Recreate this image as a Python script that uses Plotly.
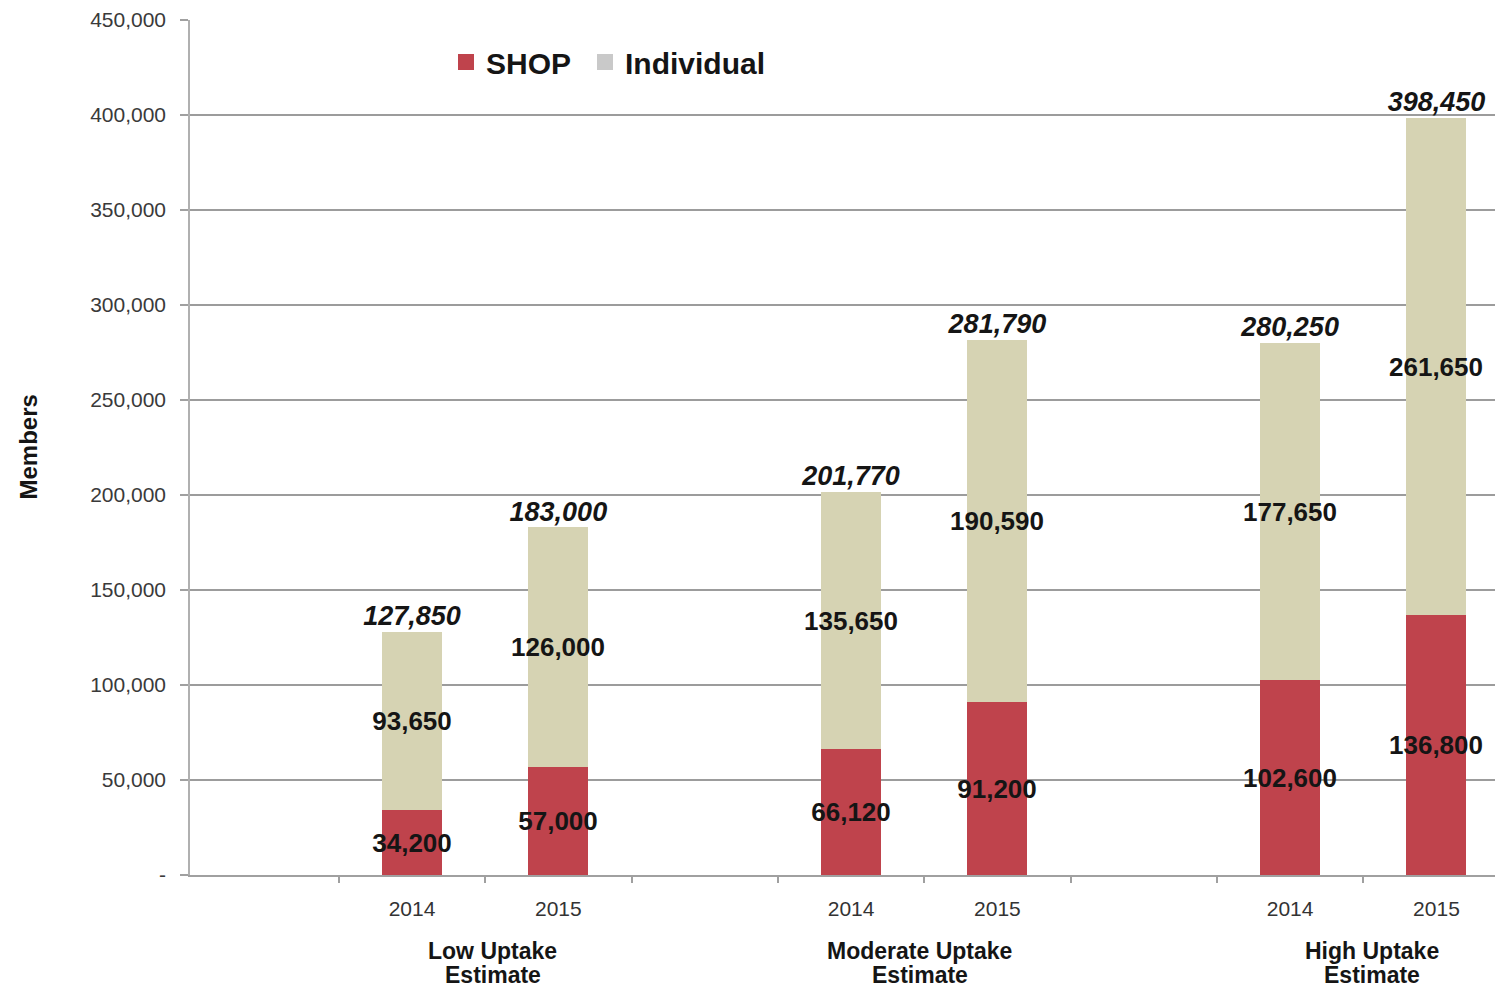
import plotly.graph_objects as go

# ---- data ----
groups = ["Low Uptake<br>Estimate", "Moderate Uptake<br>Estimate", "High Uptake<br>Estimate"]
years = ["2014", "2015", "2014", "2015", "2014", "2015"]
positions = [0, 1, 3, 4, 6, 7]          # category slots (blank slot between groups)
group_label_x = [0.55, 3.47, 6.56]
shop = [34200, 57000, 66120, 91200, 102600, 136800]
individual = [93650, 126000, 135650, 190590, 177650, 261650]
totals = [s + i for s, i in zip(shop, individual)]
y_ticks = list(range(0, 450001, 50000))
y_ticktext = ["-" if v == 0 else f"{v:,}" for v in y_ticks]

FONT = "Liberation Sans, Arial, sans-serif"
RED = "#bf434c"
BEIGE = "#d6d3b3"
LEG_GRAY = "#c9c9c9"

W, H = 1487, 981          # page body has an 8px margin
ML, MT, MB, MR = 182, 12, 114, 0
PW = W - ML - MR
PH = H - MT - MB
OFF = 8


def px_x(page_x):
    return (page_x - OFF - ML) / PW


def px_y(page_y):
    return 1 - (page_y - OFF - MT) / PH


fig = go.Figure()
fig.add_trace(go.Bar(
    x=positions, y=shop, name="SHOP", marker=dict(color=RED, line=dict(width=0)),
    width=0.41, text=[f"{v:,}" for v in shop], textposition="inside",
    insidetextanchor="middle", constraintext="none", textangle=0, showlegend=False,
    textfont=dict(family=FONT, size=26, color="#151515", weight="bold"),
))
fig.add_trace(go.Bar(
    x=positions, y=individual, name="Individual",
    marker=dict(color=BEIGE, line=dict(width=0)),
    width=0.41, text=[f"{v:,}" for v in individual], textposition="inside",
    insidetextanchor="middle", constraintext="none", textangle=0, showlegend=False,
    textfont=dict(family=FONT, size=26, color="#151515", weight="bold"),
))
fig.add_trace(go.Scatter(
    x=positions, y=totals, mode="text", text=[f"{v:,}" for v in totals],
    textposition="top center", showlegend=False, cliponaxis=False,
    textfont=dict(family=FONT, size=27, color="#151515", weight="bold", style="italic"),
))
# legend entries (large square swatches)
fig.add_trace(go.Scatter(x=[None], y=[None], mode="markers", name="SHOP", legend="legend",
                         marker=dict(symbol="square", size=20, color=RED)))
fig.add_trace(go.Scatter(x=[None], y=[None], mode="markers", name="Individual", legend="legend2",
                         marker=dict(symbol="square", size=20, color=LEG_GRAY)))

for gx, gname in zip(group_label_x, groups):
    for k, ln in enumerate(gname.split("<br>")):
        fig.add_annotation(x=gx, xref="x", y=px_y(951 + 24 * k), yref="paper", text=ln,
                           showarrow=False, yanchor="middle", align="center",
                           font=dict(family=FONT, size=23, color="#151515", weight="bold"))

fig.add_annotation(x=px_x(28), xref="paper", y=0.5, yref="paper", text="Members",
                   textangle=-90, showarrow=False, xanchor="center", yanchor="middle",
                   font=dict(family=FONT, size=24, color="#151515", weight="bold"))

leg_common = dict(orientation="h", xanchor="left", yanchor="middle",
                  bgcolor="rgba(0,0,0,0)", itemwidth=30,
                  font=dict(family=FONT, size=30, color="#151515", weight="bold"))

fig.update_layout(
    width=W, height=H,
    margin=dict(l=ML, r=MR, t=MT, b=MB, pad=0),
    paper_bgcolor="white", plot_bgcolor="white",
    barmode="stack", bargap=0,
    font=dict(family=FONT, color="#333"),
    legend=dict(x=px_x(446), y=px_y(62), **leg_common),
    legend2=dict(x=px_x(585), y=px_y(62), **leg_common),
    xaxis=dict(range=[-1.517, 7.40], tickvals=positions, ticktext=years,
               ticks="", showgrid=False, zeroline=False, showline=True,
               linecolor="#a0a0a0", linewidth=2, ticklabelstandoff=14,
               tickfont=dict(family=FONT, size=21, color="#333"),
               minor=dict(tickvals=[-0.5, 0.5, 1.5, 2.5, 3.5, 4.5, 5.5, 6.5],
                          ticks="outside", ticklen=6, tickcolor="#a0a0a0", tickwidth=1.5,
                          showgrid=False)),
    yaxis=dict(range=[0, 450000], tickvals=y_ticks, ticktext=y_ticktext,
               ticks="outside", ticklen=8, tickcolor="#a0a0a0", tickwidth=1.5,
               showgrid=True, gridcolor="#9c9c9c", gridwidth=1.6,
               zeroline=False, showline=True, linecolor="#b0b0b0", linewidth=1.5,
               ticklabelstandoff=10,
               tickfont=dict(family=FONT, size=21, color="#3a3a3a")),
)

fig.write_html("out.html")
